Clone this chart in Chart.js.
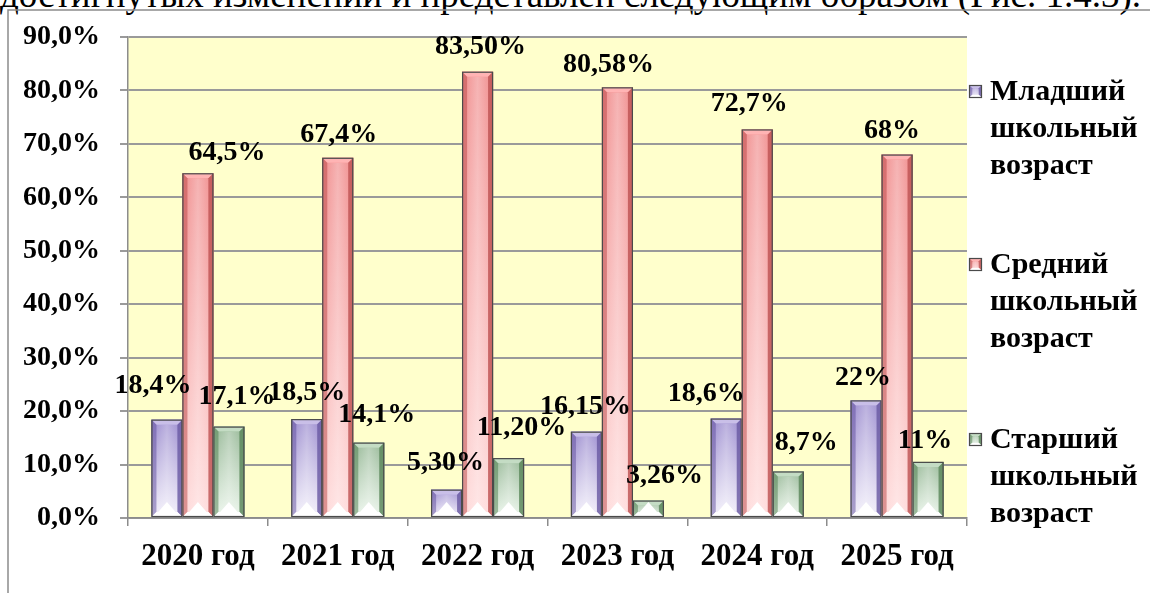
<!DOCTYPE html>
<html>
<head>
<meta charset="utf-8">
<script src="https://cdn.jsdelivr.net/npm/chart.js@4.4.1/dist/chart.umd.min.js"></script>
<style>
html, body { margin: 0; padding: 0; background: #fff; overflow: hidden; }
#cap { position: absolute; left: 0; top: -24px; font: 37px/37px "Liberation Serif", serif; white-space: nowrap; color: #000; }
#wrap { position: absolute; left: 0; top: 0; width: 1150px; height: 593px; }
</style>
</head>
<body>
<div id="cap">достигнутых изменений и представлен следующим образом (Рис. 1.4.3).</div>
<div id="wrap"><canvas id="chart" width="1150" height="593"></canvas></div>
<script>
const years = ['2020 год', '2021 год', '2022 год', '2023 год', '2024 год', '2025 год'];
const seriesNames = ['Младший школьный возраст', 'Средний школьный возраст', 'Старший школьный возраст'];

const junior = [18.4, 18.5, 5.3, 16.15, 18.6, 22];
const middle = [64.5, 67.4, 83.5, 80.58, 72.7, 68];
const senior = [17.1, 14.1, 11.2, 3.26, 8.7, 10.5];

// value labels as printed on the picture
const juniorText = ['18,4%', '18,5%', '5,30%', '16,15%', '18,6%', '22%'];
const middleText = ['64,5%', '67,4%', '83,50%', '80,58%', '72,7%', '68%'];
const seniorText = ['17,1%', '14,1%', '11,20%', '3,26%', '8,7%', '11%'];

// label nudges [dx, rise above bar top]
const juniorShift = [[-14, 34], [0, 26], [-1, 27], [-1, 25], [-20, 25], [-3, 23]];
const middleShift = [[29, 21], [1, 23], [3, 25], [-9, 23], [-8, 26], [-5, 24]];
const seniorShift = [[8, 30], [8, 28], [13, 30], [16, 25], [18, 29], [-3, 21]];

const palette = [
    { base: '#9585cc', light: '#f2effa', dark: '#6f5fa6', mid: '#c9bfe8' },
    { base: '#f08a8a', light: '#ffdada', dark: '#c05858', mid: '#ffb4b4' },
    { base: '#90b490', light: '#eaf5ea', dark: '#5f8a5f', mid: '#c4dcc4' }
];

const serif = '"Liberation Serif", "Times New Roman", serif';

function drawBevel(ctx, l, t, r, b, c) {
    const w = r - l, h = b - t;
    const e = Math.max(1, Math.min(5, h / 2, w / 4));
    const g = ctx.createLinearGradient(0, t, 0, b);
    g.addColorStop(0, c.base);
    g.addColorStop(1, c.light);
    ctx.fillStyle = g;
    ctx.fillRect(l, t, w, h);
    // inner face highlight
    const hg = ctx.createLinearGradient(l, 0, r, 0);
    hg.addColorStop(0, 'rgba(255,255,255,0)');
    hg.addColorStop(0.5, 'rgba(255,255,255,0.35)');
    hg.addColorStop(1, 'rgba(255,255,255,0)');
    ctx.fillStyle = hg;
    ctx.fillRect(l + e, t + e, w - 2 * e, h - 2 * e);
    // top bevel
    ctx.fillStyle = c.mid;
    ctx.beginPath();
    ctx.moveTo(l, t); ctx.lineTo(r, t); ctx.lineTo(r - e, t + e); ctx.lineTo(l + e, t + e); ctx.closePath(); ctx.fill();
    // left bevel
    ctx.fillStyle = c.dark;
    ctx.globalAlpha = 0.55;
    ctx.beginPath();
    ctx.moveTo(l, t); ctx.lineTo(l + e, t + e); ctx.lineTo(l + e, b - e); ctx.lineTo(l, b); ctx.closePath(); ctx.fill();
    // right bevel
    ctx.globalAlpha = 0.85;
    ctx.beginPath();
    ctx.moveTo(r, t); ctx.lineTo(r - e, t + e); ctx.lineTo(r - e, b - e); ctx.lineTo(r, b); ctx.closePath(); ctx.fill();
    ctx.globalAlpha = 1;
    // bottom bevel
    ctx.fillStyle = '#ffffff';
    ctx.beginPath();
    ctx.moveTo(l, b); ctx.lineTo(r, b); ctx.lineTo(r - e, b - e); ctx.lineTo(l + e, b - e); ctx.closePath(); ctx.fill();
    // bright tip at the bottom
    if (h > 14) {
        const tw = w * 0.28;
        ctx.beginPath();
        ctx.moveTo(l + w / 2, b - e - 10);
        ctx.lineTo(l + w / 2 + tw, b - e);
        ctx.lineTo(l + w / 2 - tw, b - e);
        ctx.closePath();
        ctx.fill();
    }
    ctx.strokeStyle = '#4a4a4a';
    ctx.lineWidth = 1.2;
    ctx.strokeRect(l + 0.5, t + 0.5, w - 1, h - 1);
}

const decorPlugin = {
    id: 'decor',
    beforeDraw(chart) {
        const { ctx, chartArea: a } = chart;
        ctx.save();
        ctx.fillStyle = '#ffffcc';
        ctx.fillRect(a.left, a.top, a.right - a.left, a.bottom - a.top);
        // outer frame of the chart object
        ctx.strokeStyle = '#8c8c8c';
        ctx.lineWidth = 1.5;
        ctx.beginPath();
        ctx.moveTo(8, chart.height + 5);
        ctx.lineTo(8, 10);
        ctx.lineTo(chart.width + 5, 10);
        ctx.stroke();
        ctx.restore();
    },
    afterDatasetsDraw(chart) {
        const { ctx } = chart;
        const texts = [juniorText, middleText, seniorText];
        const shifts = [juniorShift, middleShift, seniorShift];
        ctx.save();
        chart.data.datasets.forEach((ds, i) => {
            const meta = chart.getDatasetMeta(i);
            meta.data.forEach(bar => {
                const w = bar.width;
                drawBevel(ctx, bar.x - w / 2, bar.y, bar.x + w / 2, bar.base, palette[i]);
            });
        });
        ctx.font = 'bold 28px ' + serif;
        ctx.fillStyle = '#000';
        ctx.textAlign = 'center';
        ctx.textBaseline = 'middle';
        chart.data.datasets.forEach((ds, i) => {
            const meta = chart.getDatasetMeta(i);
            meta.data.forEach((bar, j) => {
                const s = shifts[i][j];
                ctx.fillText(texts[i][j], bar.x + s[0], bar.y - s[1]);
            });
        });
        ctx.restore();
    },
    afterDraw(chart) {
        const { ctx, chartArea: a } = chart;
        const rows = [92, 265, 440];
        ctx.save();
        chart.data.datasets.forEach((ds, i) => {
            const y0 = rows[i];
            drawBevel(ctx, a.right + 2, y0 - 7, a.right + 15, y0 + 6, palette[i]);
            ctx.font = 'bold 30px ' + serif;
            ctx.fillStyle = '#000';
            ctx.textAlign = 'left';
            ctx.textBaseline = 'middle';
            ds.label.split(' ').forEach((word, k) => {
                ctx.fillText(word, a.right + 23, y0 + k * 37);
            });
        });
        ctx.restore();
    }
};

const ctx = document.getElementById('chart').getContext('2d');

new Chart(ctx, {
    type: 'bar',
    data: {
        labels: years,
        datasets: [
            { label: seriesNames[0], data: junior, backgroundColor: palette[0].base },
            { label: seriesNames[1], data: middle, backgroundColor: palette[1].base },
            { label: seriesNames[2], data: senior, backgroundColor: palette[2].base }
        ]
    },
    options: {
        responsive: false,
        animation: false,
        layout: { padding: { top: 37, right: 183, left: 0, bottom: 0 } },
        datasets: { bar: { categoryPercentage: 0.665, barPercentage: 1 } },
        plugins: { legend: { display: false }, tooltip: { enabled: false } },
        scales: {
            x: {
                grid: { drawOnChartArea: false, tickLength: 8, color: '#8c8c8c', lineWidth: 1.5 },
                border: { color: '#8c8c8c', width: 1.5 },
                ticks: { color: '#000', padding: 12, font: { family: serif, size: 31, weight: 'bold' } },
                afterFit(scale) { scale.height = 75; }
            },
            y: {
                min: 0,
                max: 90,
                grid: { color: '#9a9a9a', lineWidth: 2, tickLength: 8 },
                border: { color: '#8c8c8c', width: 1.5 },
                ticks: {
                    stepSize: 10,
                    color: '#000',
                    padding: 20,
                    font: { family: serif, size: 28, weight: 'bold' },
                    callback: v => v.toFixed(1).replace('.', ',') + '%'
                },
                afterFit(scale) { scale.width = 128; }
            }
        }
    },
    plugins: [decorPlugin]
});
</script>
</body>
</html>
